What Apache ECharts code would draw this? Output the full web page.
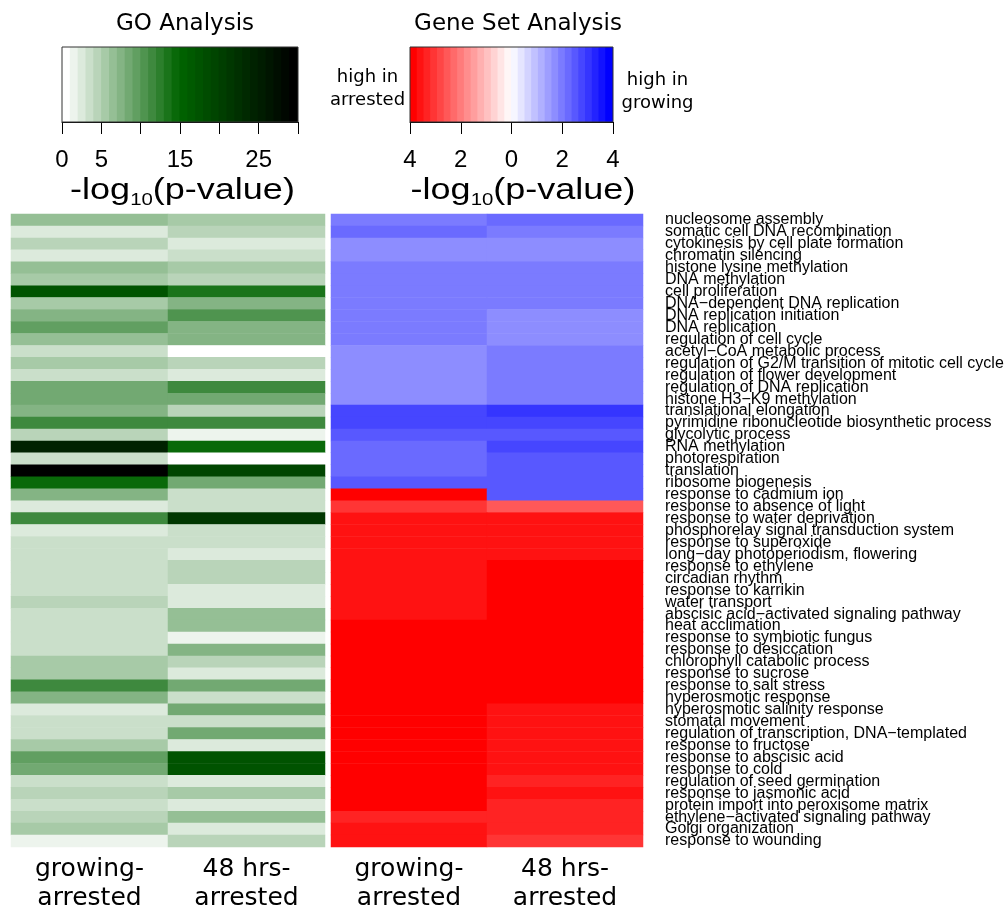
<!DOCTYPE html>
<html>
<head>
<meta charset="utf-8">
<title>GO and Gene Set Analysis</title>
<script src="https://cdn.jsdelivr.net/npm/echarts@6/dist/echarts.min.js"></script>
<style>
  html, body { margin: 0; padding: 0; background: #fff; }
  #main { width: 1007px; height: 913px; }
</style>
</head>
<body>
<div id="main"></div>
<script>
// row terms, top to bottom
var terms = [
  'nucleosome assembly', 'somatic cell DNA recombination', 'cytokinesis by cell plate formation',
  'chromatin silencing', 'histone lysine methylation', 'DNA methylation', 'cell proliferation',
  'DNA\u2212dependent DNA replication', 'DNA replication initiation', 'DNA replication',
  'regulation of cell cycle', 'acetyl\u2212CoA metabolic process',
  'regulation of G2/M transition of mitotic cell cycle', 'regulation of flower development',
  'regulation of DNA replication', 'histone H3\u2212K9 methylation', 'translational elongation',
  'pyrimidine ribonucleotide biosynthetic process', 'glycolytic process', 'RNA methylation',
  'photorespiration', 'translation', 'ribosome biogenesis', 'response to cadmium ion',
  'response to absence of light', 'response to water deprivation',
  'phosphorelay signal transduction system', 'response to superoxide',
  'long\u2212day photoperiodism, flowering', 'response to ethylene', 'circadian rhythm',
  'response to karrikin', 'water transport', 'abscisic acid\u2212activated signaling pathway',
  'heat acclimation', 'response to symbiotic fungus', 'response to desiccation',
  'chlorophyll catabolic process', 'response to sucrose', 'response to salt stress',
  'hyperosmotic response', 'hyperosmotic salinity response', 'stomatal movement',
  'regulation of transcription, DNA\u2212templated', 'response to fructose',
  'response to abscisic acid', 'response to cold', 'regulation of seed germination',
  'response to jasmonic acid', 'protein import into peroxisome matrix',
  'ethylene\u2212activated signaling pathway', 'Golgi organization', 'response to wounding'
];

var columns = ['growing-\narrested', '48 hrs-\narrested'];

// GO analysis, -log10(p-value)
var goGrowing = [6.5, 2.5, 4.5, 2.5, 6.5, 5.5, 17.5, 5.5, 7.5, 9.5,
  6.5, 3.5, 5.5, 3.5, 8.5, 8.5, 7.5, 11.5, 4.5, 24.5,
  3.5, 29.8, 14.5, 7.5, 2.5, 11.5, 2.5, 3.5, 3.5, 3.5,
  3.5, 3.5, 4.5, 3.5, 3.5, 3.5, 3.5, 5.5, 5.5, 11.5,
  7.5, 2.5, 3.5, 3.5, 5.5, 9.5, 8.5, 3.5, 4.5, 3.5,
  4.5, 5.5, 1.5];
var go48 = [5.5, 4.5, 2.5, 3.5, 5.5, 4.5, 13.5, 7.5, 10.5, 7.5,
  7.5, 0.4, 4.5, 2.5, 11.5, 8.5, 4.5, 11.5, 1.5, 14.5,
  0.4, 19.5, 8.5, 3.5, 3.5, 21.5, 3.5, 3.5, 2.5, 4.5,
  4.5, 2.5, 2.5, 6.5, 6.5, 1.5, 7.5, 4.5, 2.5, 8.5,
  3.5, 8.5, 3.5, 8.5, 2.5, 17.5, 17.5, 2.5, 5.5, 2.5,
  6.5, 2.5, 4.5];

// Gene set analysis, signed -log10(p-value): + high in growing, - high in arrested
var gsGrowing = [2.0, 2.3, 1.7, 1.7, 2.0, 2.0, 2.0, 2.0, 2.0, 2.0,
  2.0, 1.7, 1.7, 1.7, 1.7, 1.7, 2.8, 2.8, 2.5, 2.3,
  2.3, 2.3, 2.5, -3.9, -3.1, -3.6, -3.6, -3.6, -3.6, -3.6,
  -3.6, -3.6, -3.6, -3.6, -3.9, -3.9, -3.9, -3.9, -3.9, -3.9,
  -3.9, -3.9, -3.9, -3.9, -3.9, -3.9, -3.9, -3.9, -3.9, -3.9,
  -3.3, -3.6, -3.6];
var gs48 = [2.3, 2.0, 1.7, 1.7, 2.0, 2.0, 2.0, 2.0, 1.7, 1.7,
  1.7, 2.0, 2.0, 2.0, 2.0, 2.0, 3.1, 2.8, 2.5, 2.8,
  2.5, 2.5, 2.5, 2.5, -2.5, -3.6, -3.6, -3.6, -3.6, -3.9,
  -3.9, -3.9, -3.9, -3.9, -3.9, -3.9, -3.9, -3.9, -3.9, -3.9,
  -3.9, -3.6, -3.6, -3.6, -3.6, -3.6, -3.6, -3.3, -3.6, -3.3,
  -3.3, -3.3, -3.1];

var goTickLabels = ['0', '5', '', '15', '', '25', ''];
var gsTickLabels = ['4', '2', '0', '2', '4'];

function toCells(a, b) {
  var out = [];
  for (var i = 0; i < terms.length; i++) {
    out.push([0, i, a[i]]);
    out.push([1, i, b[i]]);
  }
  return out;
}

var myChart = echarts.init(document.getElementById('main'));

var sans = 'Liberation Sans';
var dejavu = 'DejaVu Sans';

var colAxis = {
  type: 'category',
  data: columns,
  position: 'bottom',
  axisLine: { show: false },
  axisTick: { show: false },
  splitLine: { show: false },
  axisLabel: { fontFamily: dejavu, fontSize: 25, lineHeight: 29, color: '#000', margin: 8 }
};

function logName(x) {
  return {
    type: 'text',
    x: x,
    y: 191,
    scaleX: 1.2,
    style: {
      text: '{a|-log}{b|10}{a|(p-value)}',
      align: 'center',
      verticalAlign: 'middle',
      fill: '#000',
      rich: {
        a: { fontFamily: sans, fontSize: 30, lineHeight: 36, fill: '#000' },
        b: { fontFamily: sans, fontSize: 17, lineHeight: 17, verticalAlign: 'bottom', fill: '#000' }
      }
    }
  };
}

// colour key bars: 30 steps, slight overlap so no seams
function keyBar(idx, min, max, colors, left, width) {
  return {
    type: 'piecewise', seriesIndex: idx, min: min, max: max, splitNumber: 30,
    inRange: { color: colors },
    orient: 'horizontal', left: left, top: 47, padding: 0,
    itemWidth: (width + 29) / 30, itemHeight: 75, itemGap: -1, itemSymbol: 'rect',
    showLabel: false, hoverLink: false, selectedMode: false
  };
}

var option = {
  animation: false,
  backgroundColor: '#fff',
  grid: [
    { left: 11, top: 214, width: 314, height: 638 },
    { left: 331, top: 214, width: 312, height: 638 },
    { left: 62, top: 47, width: 236, height: 75, show: true, z: 10,
      borderColor: '#333', borderWidth: 1, backgroundColor: 'transparent' },
    { left: 410, top: 47, width: 203, height: 75, show: true, z: 10,
      borderColor: '#333', borderWidth: 1, backgroundColor: 'transparent' }
  ],
  xAxis: [
    Object.assign({ gridIndex: 0 }, colAxis),
    Object.assign({ gridIndex: 1 }, colAxis),
    {
      gridIndex: 2, type: 'value', min: 0, max: 30, interval: 5, position: 'bottom',
      axisLine: { show: true, lineStyle: { color: '#000', width: 1 } },
      axisTick: { show: true, length: 12, lineStyle: { color: '#000', width: 1 } },
      splitLine: { show: false },
      axisLabel: {
        fontFamily: sans, fontSize: 24, color: '#000', margin: 26,
        showMinLabel: true, showMaxLabel: true,
        formatter: function (v, i) { return goTickLabels[i]; }
      }
    },
    {
      gridIndex: 3, type: 'value', min: -4, max: 4, interval: 2, position: 'bottom',
      axisLine: { show: true, lineStyle: { color: '#000', width: 1 } },
      axisTick: { show: true, length: 12, lineStyle: { color: '#000', width: 1 } },
      splitLine: { show: false },
      axisLabel: {
        fontFamily: sans, fontSize: 24, color: '#000', margin: 26,
        showMinLabel: true, showMaxLabel: true,
        formatter: function (v, i) { return gsTickLabels[i]; }
      }
    }
  ],
  yAxis: [
    { gridIndex: 0, type: 'category', data: terms, inverse: true, show: false },
    {
      gridIndex: 1, type: 'category', data: terms, inverse: true, position: 'right',
      axisLine: { show: false },
      axisTick: { show: false },
      splitLine: { show: false },
      axisLabel: { interval: 0, fontFamily: sans, fontSize: 16, color: '#000', margin: 22, align: 'left' }
    },
    { gridIndex: 2, type: 'value', show: false, min: 0, max: 1 },
    { gridIndex: 3, type: 'value', show: false, min: 0, max: 1 }
  ],
  visualMap: [
    keyBar(0, 0, 30, ['#ffffff', '#006400', '#000000'], 62, 236),
    keyBar(1, -4, 4, ['#ff0000', '#ffffff', '#0000ff'], 410, 203)
  ],
  graphic: [
    { type: 'text', x: 185, y: 24, style: { text: 'GO Analysis', fontFamily: dejavu, fontSize: 23, fill: '#000', align: 'center', verticalAlign: 'middle' } },
    { type: 'text', x: 518, y: 24, style: { text: 'Gene Set Analysis', fontFamily: dejavu, fontSize: 23, fill: '#000', align: 'center', verticalAlign: 'middle' } },
    { type: 'text', x: 367.5, y: 89, style: { text: 'high in\narrested', fontFamily: dejavu, fontSize: 18, lineHeight: 23, fill: '#000', align: 'center', verticalAlign: 'middle' } },
    { type: 'text', x: 657.5, y: 92, style: { text: 'high in\ngrowing', fontFamily: dejavu, fontSize: 18, lineHeight: 23, fill: '#000', align: 'center', verticalAlign: 'middle' } },
    logName(182.5),
    logName(523)
  ],
  series: [
    {
      name: 'GO Analysis', type: 'heatmap', xAxisIndex: 0, yAxisIndex: 0,
      data: toCells(goGrowing, go48), emphasis: { disabled: true }
    },
    {
      name: 'Gene Set Analysis', type: 'heatmap', xAxisIndex: 1, yAxisIndex: 1,
      data: toCells(gsGrowing, gs48), emphasis: { disabled: true }
    }
  ]
};

option && myChart.setOption(option);
</script>
</body>
</html>
